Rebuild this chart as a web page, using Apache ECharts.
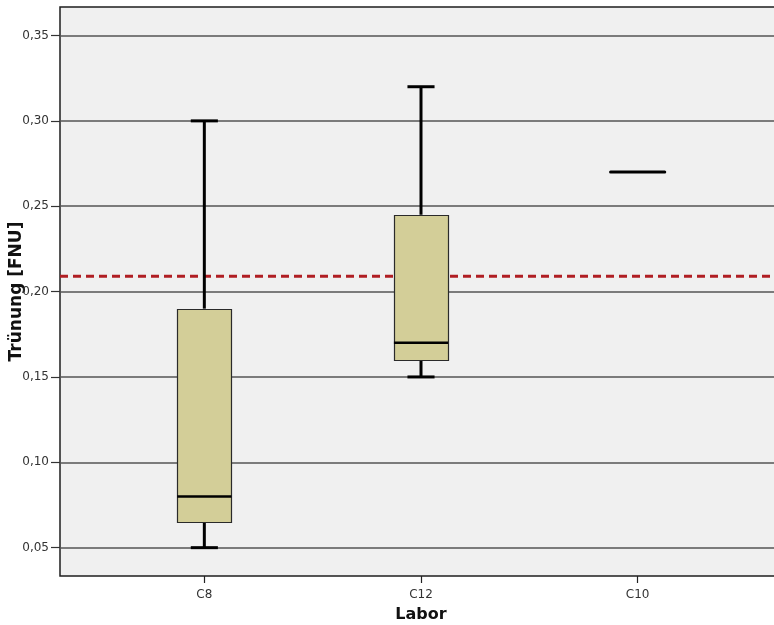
<!DOCTYPE html>
<html>
<head>
<meta charset="utf-8">
<script src="https://cdn.jsdelivr.net/npm/echarts@6/dist/echarts.min.js"></script>
<style>
html,body{margin:0;padding:0;background:#fff;}
#chart{width:774px;height:625px;}
</style>
</head>
<body>
<div id="chart"></div>
<script>
// ---- data ----
const categories = ['C8', 'C12', 'C10'];
const whiskerMin = [0.05, 0.15, 0.27];
const quartile1 = [0.065, 0.16, 0.27];
const medians = [0.08, 0.17, 0.27];
const quartile3 = [0.19, 0.245, 0.27];
const whiskerMax = [0.30, 0.32, 0.27];
const referenceValue = [0.209];
const yTickValues = [0.05, 0.10, 0.15, 0.20, 0.25, 0.30, 0.35];
const yRange = [0.0334, 0.3667];

const boxData = categories.map((c, i) => [i, whiskerMin[i], quartile1[i], medians[i], quartile3[i], whiskerMax[i]]);
const refLineData = [[0, referenceValue[0]], [1, referenceValue[0]]];

const FONT = 'DejaVu Sans';
const chart = echarts.init(document.getElementById('chart'), null, {renderer: 'canvas'});

function renderBox(params, api) {
  const x = api.value(0);
  const vMin = api.value(1), vQ1 = api.value(2), vMed = api.value(3), vQ3 = api.value(4), vMax = api.value(5);
  const cx = api.coord([x, vMed])[0];
  const bw = api.size([1, 0])[0] * 0.25;
  const y = v => api.coord([x, v])[1];
  const children = [];
  const blk = {stroke: '#000', lineWidth: 3, lineCap: 'butt'};
  if (vMin === vMax) {
    children.push({type: 'line', shape: {x1: cx - bw / 2, y1: y(vMed), x2: cx + bw / 2, y2: y(vMed)}, style: Object.assign({}, blk, {lineCap: 'round'})});
    return {type: 'group', children};
  }
  // whiskers
  children.push({type: 'line', shape: {x1: cx, y1: y(vQ3), x2: cx, y2: y(vMax)}, style: blk});
  children.push({type: 'line', shape: {x1: cx, y1: y(vQ1), x2: cx, y2: y(vMin)}, style: blk});
  // caps
  children.push({type: 'line', shape: {x1: cx - bw / 4, y1: y(vMax), x2: cx + bw / 4, y2: y(vMax)}, style: blk});
  children.push({type: 'line', shape: {x1: cx - bw / 4, y1: y(vMin), x2: cx + bw / 4, y2: y(vMin)}, style: blk});
  // box
  const top = y(vQ3), bot = y(vQ1);
  children.push({type: 'rect', shape: {x: Math.round(cx - bw / 2) + 0.5, y: Math.round(top) + 0.5, width: Math.round(bw), height: Math.round(bot - top)},
    style: {fill: '#d3ce98', stroke: '#2a2a2a', lineWidth: 1.2}});
  // median
  children.push({type: 'line', shape: {x1: cx - bw / 2, y1: y(vMed), x2: cx + bw / 2, y2: y(vMed)}, style: {stroke: '#000', lineWidth: 2.5}});
  return {type: 'group', children};
}

const option = {
  animation: false,
  backgroundColor: '#ffffff',
  grid: [
    {left: 60, top: 7, right: -4, bottom: 49, show: true, backgroundColor: '#f0f0f0', borderColor: '#1e1e1e', borderWidth: 1.5, containLabel: false, outerBoundsMode: 'none'},
    {left: 96, top: 7, right: 28, bottom: 49, containLabel: false, outerBoundsMode: 'none'}
  ],
  xAxis: [
    {type: 'value', gridIndex: 0, min: 0, max: 1, show: false},
    {
      type: 'category', gridIndex: 1, data: categories, boundaryGap: true,
      axisLine: {show: false},
      axisTick: {show: true, alignWithLabel: true, length: 7, lineStyle: {color: '#222', width: 1.2}},
      axisLabel: {fontFamily: FONT, fontSize: 12, color: '#333', margin: 13},
      splitLine: {show: false},
      name: 'Labor', nameLocation: 'middle', nameGap: 31, nameMoveOverlap: false,
      nameTextStyle: {fontFamily: FONT, fontSize: 16, fontWeight: 'bold', color: '#111'}
    }
  ],
  yAxis: [
    {
      type: 'value', gridIndex: 0, min: yRange[0], max: yRange[1],
      axisLine: {show: false},
      axisTick: {show: true, length: 9, customValues: yTickValues, lineStyle: {color: '#333', width: 1.2}},
      axisLabel: {customValues: yTickValues, fontFamily: FONT, fontSize: 12, color: '#333', margin: 11,
        formatter: v => v.toFixed(2).replace('.', ',')},
      splitLine: {show: true, lineStyle: {color: '#555555', width: 1.5}},
      name: 'Trünung [FNU]', nameLocation: 'middle', nameGap: 35, nameRotate: 90, nameMoveOverlap: false,
      nameTextStyle: {fontFamily: FONT, fontSize: 17, fontWeight: 'bold', color: '#111'}
    },
    {type: 'value', gridIndex: 1, min: yRange[0], max: yRange[1], show: false, splitLine: {show: false}}
  ],
  series: [
    {
      type: 'line', xAxisIndex: 0, yAxisIndex: 0, data: refLineData, symbol: 'none', silent: true, z: 3,
      lineStyle: {color: '#b01e23', width: 3, type: [8, 5]}
    },
    {
      type: 'custom', xAxisIndex: 1, yAxisIndex: 1, data: boxData, renderItem: renderBox, z: 4,
      encode: {x: 0, y: [1, 2, 3, 4, 5]}
    }
  ]
};
chart.setOption(option);
</script>
</body>
</html>
